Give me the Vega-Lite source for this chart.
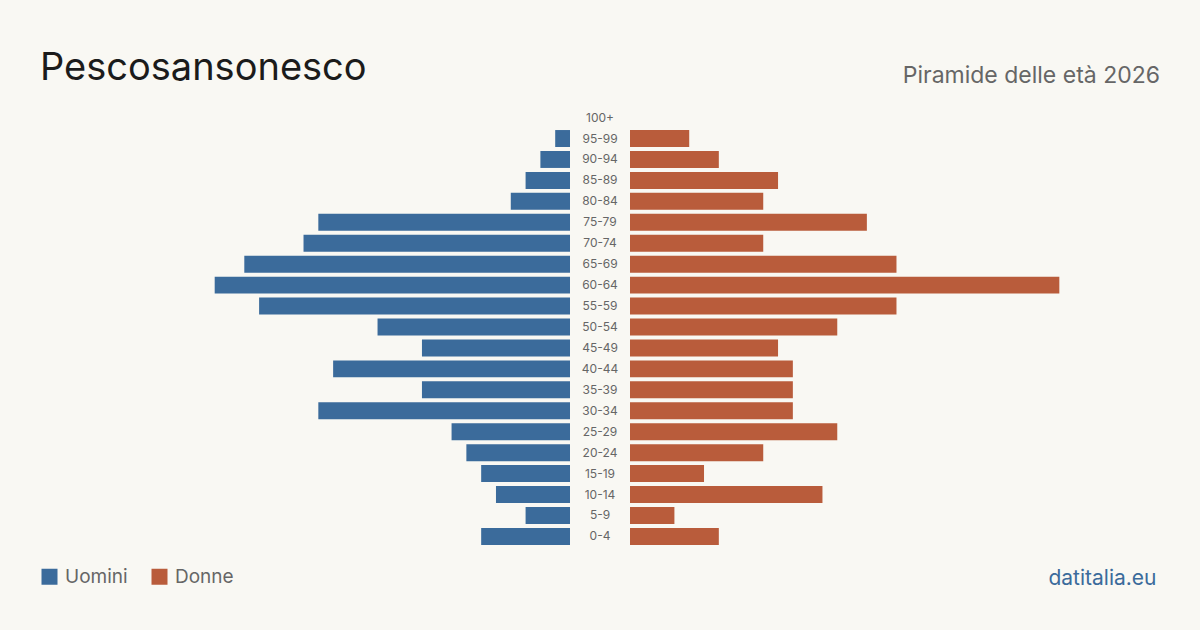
{
  "$schema": "https://vega.github.io/schema/vega-lite/v6.json",
  "background": "#f9f8f3",
  "padding": {"left": 40, "right": 40, "top": 50, "bottom": 45},
  "spacing": 0,
  "config": {
    "view": {"stroke": null},
    "font": "Inter",
    "title": {"font": "Inter", "fontWeight": "normal"},
    "axis": {"labelFont": "Inter", "titleFont": "Inter"},
    "legend": {"labelFont": "Inter"}
  },
  "datasets": {
    "pop": [
      {"eta": "100+", "sesso": "Uomini", "n": 0}, {"eta": "100+", "sesso": "Donne", "n": 0},
      {"eta": "95-99", "sesso": "Uomini", "n": 1}, {"eta": "95-99", "sesso": "Donne", "n": 4},
      {"eta": "90-94", "sesso": "Uomini", "n": 2}, {"eta": "90-94", "sesso": "Donne", "n": 6},
      {"eta": "85-89", "sesso": "Uomini", "n": 3}, {"eta": "85-89", "sesso": "Donne", "n": 10},
      {"eta": "80-84", "sesso": "Uomini", "n": 4}, {"eta": "80-84", "sesso": "Donne", "n": 9},
      {"eta": "75-79", "sesso": "Uomini", "n": 17}, {"eta": "75-79", "sesso": "Donne", "n": 16},
      {"eta": "70-74", "sesso": "Uomini", "n": 18}, {"eta": "70-74", "sesso": "Donne", "n": 9},
      {"eta": "65-69", "sesso": "Uomini", "n": 22}, {"eta": "65-69", "sesso": "Donne", "n": 18},
      {"eta": "60-64", "sesso": "Uomini", "n": 24}, {"eta": "60-64", "sesso": "Donne", "n": 29},
      {"eta": "55-59", "sesso": "Uomini", "n": 21}, {"eta": "55-59", "sesso": "Donne", "n": 18},
      {"eta": "50-54", "sesso": "Uomini", "n": 13}, {"eta": "50-54", "sesso": "Donne", "n": 14},
      {"eta": "45-49", "sesso": "Uomini", "n": 10}, {"eta": "45-49", "sesso": "Donne", "n": 10},
      {"eta": "40-44", "sesso": "Uomini", "n": 16}, {"eta": "40-44", "sesso": "Donne", "n": 11},
      {"eta": "35-39", "sesso": "Uomini", "n": 10}, {"eta": "35-39", "sesso": "Donne", "n": 11},
      {"eta": "30-34", "sesso": "Uomini", "n": 17}, {"eta": "30-34", "sesso": "Donne", "n": 11},
      {"eta": "25-29", "sesso": "Uomini", "n": 8}, {"eta": "25-29", "sesso": "Donne", "n": 14},
      {"eta": "20-24", "sesso": "Uomini", "n": 7}, {"eta": "20-24", "sesso": "Donne", "n": 9},
      {"eta": "15-19", "sesso": "Uomini", "n": 6}, {"eta": "15-19", "sesso": "Donne", "n": 5},
      {"eta": "10-14", "sesso": "Uomini", "n": 5}, {"eta": "10-14", "sesso": "Donne", "n": 13},
      {"eta": "5-9", "sesso": "Uomini", "n": 3}, {"eta": "5-9", "sesso": "Donne", "n": 3},
      {"eta": "0-4", "sesso": "Uomini", "n": 6}, {"eta": "0-4", "sesso": "Donne", "n": 6}
    ]
  },
  "resolve": {"scale": {"color": "shared", "x": "independent", "y": "shared"}},
  "hconcat": [
    {
      "width": 530,
      "height": 440,
      "data": {"name": "pop"},
      "transform": [{"filter": "datum.sesso === 'Uomini'"}],
      "title": {"text": "Pescosansonesco", "anchor": "start", "fontSize": 38, "color": "#1b1b1b", "offset": 19},
      "mark": {"type": "bar"},
      "encoding": {
        "y": {"field": "eta", "type": "nominal", "axis": null,
              "scale": {"domain": ["100+","95-99","90-94","85-89","80-84","75-79","70-74","65-69","60-64","55-59","50-54","45-49","40-44","35-39","30-34","25-29","20-24","15-19","10-14","5-9","0-4"], "paddingInner": 0.19, "paddingOuter": 0.1}},
        "x": {"field": "n", "type": "quantitative", "axis": null, "scale": {"domain": [0, 35.8], "reverse": true}},
        "color": {"field": "sesso", "type": "nominal",
                  "scale": {"domain": ["Uomini", "Donne"], "range": ["#3b6b9b", "#b95c3b"]},
                  "legend": {"orient": "none", "legendX": 0, "legendY": 460, "direction": "horizontal", "title": null,
                             "symbolType": "square", "symbolSize": 256, "symbolStrokeWidth": 0, "symbolOpacity": 1,
                             "labelFontSize": 19, "labelColor": "#666666", "columnPadding": 22, "labelOffset": 6}}
      }
    },
    {
      "width": 60,
      "height": 440,
      "data": {"name": "pop"},
      "transform": [{"filter": "datum.sesso === 'Donne'"}],
      "mark": {"type": "text", "fontSize": 12, "color": "#666666", "align": "center", "baseline": "middle"},
      "encoding": {
        "y": {"field": "eta", "type": "nominal", "axis": null,
              "scale": {"domain": ["100+","95-99","90-94","85-89","80-84","75-79","70-74","65-69","60-64","55-59","50-54","45-49","40-44","35-39","30-34","25-29","20-24","15-19","10-14","5-9","0-4"]}},
        "x": {"datum": 0, "type": "quantitative", "axis": null, "scale": {"domain": [-1, 1]}},
        "text": {"field": "eta"}
      }
    },
    {
      "width": 530,
      "height": 440,
      "data": {"name": "pop"},
      "transform": [{"filter": "datum.sesso === 'Donne'"}],
      "title": {"text": "Piramide delle età 2026", "anchor": "end", "fontSize": 23, "color": "#666666", "offset": 19},
      "mark": {"type": "bar"},
      "encoding": {
        "y": {"field": "eta", "type": "nominal", "axis": null,
              "scale": {"domain": ["100+","95-99","90-94","85-89","80-84","75-79","70-74","65-69","60-64","55-59","50-54","45-49","40-44","35-39","30-34","25-29","20-24","15-19","10-14","5-9","0-4"]}},
        "x": {"field": "n", "type": "quantitative", "scale": {"domain": [0, 35.8]},
              "axis": {"title": "datitalia.eu", "titleAnchor": "end", "titleFontSize": 21, "titleColor": "#3b6b9b", "titleFontWeight": "normal",
                       "titleX": 526, "labels": false, "ticks": false, "domain": false, "grid": false, "titlePadding": 20}},
        "color": {"field": "sesso", "type": "nominal", "scale": {"domain": ["Uomini", "Donne"], "range": ["#3b6b9b", "#b95c3b"]}}
      }
    }
  ]
}
